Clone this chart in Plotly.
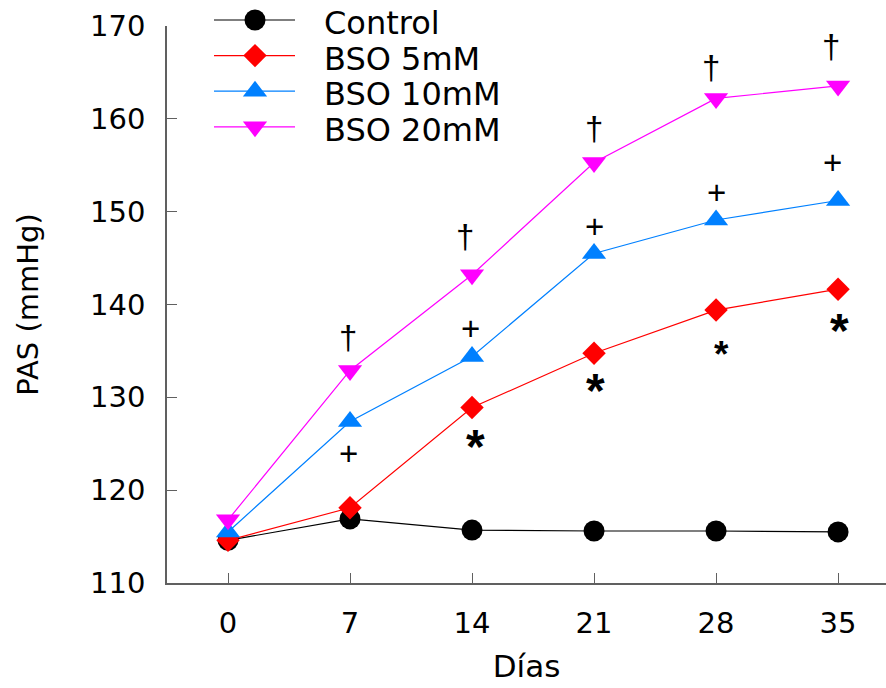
import plotly.graph_objects as go

# ---------------- data ----------------
days = [0, 7, 14, 21, 28, 35]
control = [114.6, 116.9, 115.7, 115.6, 115.6, 115.5]
bso5 = [114.6, 118.1, 128.9, 134.75, 139.4, 141.65]
bso10 = [115.5, 127.4, 134.4, 145.5, 149.1, 151.2]
bso20 = [116.8, 132.9, 143.2, 155.3, 162.2, 163.55]
series_names = ["Control", "BSO 5mM", "BSO 10mM", "BSO 20mM"]
x_ticks = [0, 7, 14, 21, 28, 35]
y_ticks = [110, 120, 130, 140, 150, 160, 170]

# significance marks (x, y of visual centre)
dagger_x = [6.9, 13.6, 21.0, 27.7, 34.6]
dagger_y = [136.4, 147.3, 159.0, 165.55, 167.8]
plus_x = [6.9, 13.9, 21.0, 28.0, 34.7]
plus_y = [124.0, 137.4, 148.4, 152.06, 155.3]
star_x = [14.2, 21.1, 28.3, 35.06]
star_y = [125.3, 131.3, 135.1, 137.8]
star_big = [True, True, False, True]

# ---------------- styles ----------------
FONT = "DejaVu Sans, Liberation Sans, Arial, sans-serif"
SYM_FONT = "Liberation Sans, Arial, sans-serif"
colors = ["#000000", "#ff0000", "#0080ff", "#ff00ff"]
symbols = ["circle", "diamond", "triangle-up", "triangle-down"]
sizes = [21, 18, 21, 21]
W, H = 886, 688
L_PX, R_PX, T_PX, B_PX = 167, 886, 26, 583

fig = go.Figure()
all_y = [control, bso5, bso10, bso20]
for name, ys, c, s, sz in zip(series_names, all_y, colors, symbols, sizes):
    fig.add_trace(go.Scatter(
        x=days, y=ys, name=name, mode="lines+markers",
        line=dict(color=c, width=1.2),
        marker=dict(color=c, symbol=s, size=sz, line=dict(width=0)),
        showlegend=False, cliponaxis=False,
    ))

# custom legend drawn in a full-figure pixel-coordinate subplot
leg_y0, leg_dy = 20, 35.6
for i, (name, c, s, sz) in enumerate(zip(series_names, colors, symbols, sizes)):
    yy = leg_y0 + i * leg_dy
    fig.add_trace(go.Scatter(
        x=[214, 255, 295], y=[yy, yy, yy], mode="lines",
        line=dict(color=c, width=1.2), xaxis="x2", yaxis="y2",
        showlegend=False, hoverinfo="skip"))
    fig.add_trace(go.Scatter(
        x=[255], y=[yy], mode="markers",
        marker=dict(color=c, symbol=s, size=sz, line=dict(width=0)),
        xaxis="x2", yaxis="y2", showlegend=False, hoverinfo="skip"))
    fig.add_annotation(x=322, y=yy + 3, xref="x2", yref="y2", text=name,
                       showarrow=False, xanchor="left", yanchor="middle",
                       font=dict(family=FONT, size=32, color="black"))

for x, y in zip(dagger_x, dagger_y):
    fig.add_annotation(x=x, y=y, text="†", showarrow=False, yanchor="middle",
                       font=dict(family=SYM_FONT, size=33, color="black"))
for x, y in zip(plus_x, plus_y):
    fig.add_annotation(x=x, y=y, text="+", showarrow=False, yanchor="middle",
                       font=dict(family=SYM_FONT, size=33, color="black"))
for x, y, big in zip(star_x, star_y, star_big):
    fs = 48 if big else 37
    fig.add_annotation(x=x, y=y, text="<b>*</b>", showarrow=False, yanchor="middle",
                       yshift=-0.11 * fs,
                       font=dict(family=SYM_FONT, size=fs, color="black"))

fig.update_layout(
    width=W, height=H, autosize=False,
    margin=dict(l=0, r=0, t=0, b=0, pad=0, autoexpand=False),
    paper_bgcolor="white", plot_bgcolor="rgba(0,0,0,0)",
    font=dict(family=FONT, size=29, color="black"),
    xaxis=dict(domain=[L_PX / W, R_PX / W], range=[-3.5, 37.75], automargin=False,
               tickvals=x_ticks, ticks="inside", ticklen=10, tickcolor="#606060",
               showline=True, linecolor="#606060", linewidth=1.5, showgrid=False,
               zeroline=False, ticklabelstandoff=13,
               title=dict(text="Días", standoff=17, font=dict(size=31)),
               tickfont=dict(size=29), anchor="y"),
    yaxis=dict(domain=[(H - B_PX) / H, (H - T_PX) / H], range=[110, 170], automargin=False,
               tickvals=y_ticks, ticks="inside", ticklen=10, tickcolor="#606060",
               showline=True, linecolor="#606060", linewidth=1.5, showgrid=False,
               zeroline=False, ticklabelstandoff=14,
               title=dict(text="PAS (mmHg)", standoff=43, font=dict(size=29)),
               tickfont=dict(size=29), anchor="x"),
    xaxis2=dict(domain=[0, 1], range=[0, W], visible=False, anchor="y2",
                fixedrange=True, automargin=False),
    yaxis2=dict(domain=[0, 1], range=[H, 0], visible=False, anchor="x2",
                fixedrange=True, automargin=False),
    showlegend=False,
)

fig.write_html("out.html")
